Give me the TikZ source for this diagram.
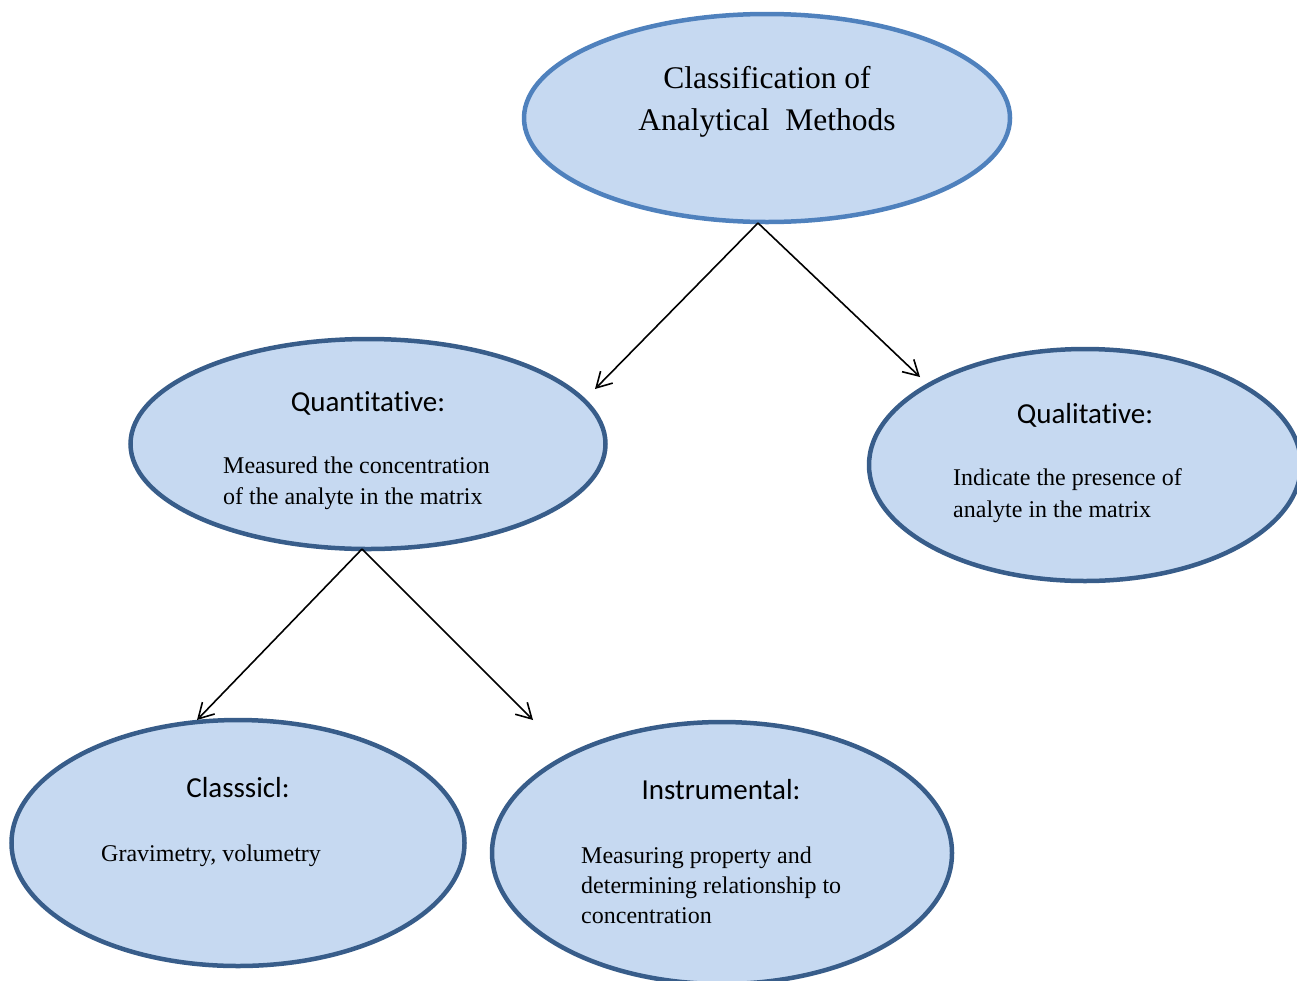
\documentclass[tikz,border=0pt]{standalone}
\usepackage{fontspec}
\setmainfont{Liberation Serif}
\newfontfamily\headfont[Ligatures=NoCommon]{Carlito}
\usetikzlibrary{shapes.geometric,arrows.meta}
\definecolor{ellfill}{HTML}{C6D9F1}
\definecolor{topborder}{HTML}{4F81BD}
\definecolor{subborder}{HTML}{385D8A}
\begin{document}
\begin{tikzpicture}[x=1pt,y=-1pt,
  ell/.style={ellipse,draw=subborder,fill=ellfill,line width=4.5pt,inner sep=0pt},
  headtxt/.style={anchor=base,inner sep=0pt,font=\headfont\fontsize{29}{34}\selectfont},
  titletxt/.style={anchor=base,inner sep=0pt,font=\fontsize{31.5}{42}\selectfont},
  bodytxt/.style={anchor=base west,inner sep=0pt,font=\fontsize{24}{31}\selectfont},
  conn/.style={line width=1.6pt,-{Straight Barb[length=15pt,width=17pt,line width=1.6pt]}}]
\useasboundingbox (0,0) rectangle (1297,980);
\begin{scope}
\clip (0,0) rectangle (1297,980);
\node[ell,draw=topborder,minimum width=486pt,minimum height=208pt] (top) at (767,118) {};
\node[ell,minimum width=475pt,minimum height=210pt] (quant) at (368,444) {};
\node[ell,minimum width=432pt,minimum height=232pt] (qual) at (1085,465) {};
\node[ell,minimum width=453pt,minimum height=246pt] (class) at (238,843) {};
\node[ell,minimum width=460pt,minimum height=262pt] (instr) at (722,853) {};
\end{scope}
% texts
\node[titletxt] (t1) at (767,88) {Classification of};
\node[titletxt] (t2) at (767,130) {Analytical\ \ Methods};
\node[headtxt] (h1) at (368,411) {Quantitative:};
\node[bodytxt] (b1a) at (223,473) {Measured the concentration};
\node[bodytxt] (b1b) at (223,504) {of the analyte in the matrix};
\node[headtxt] (h2) at (1085,423) {Qualitative:};
\node[bodytxt] (b2a) at (953,485) {Indicate the presence of};
\node[bodytxt] (b2b) at (953,517) {analyte in the matrix};
\node[headtxt] (h3) at (238,797) {Classsicl:};
\node[bodytxt] (b3a) at (101,861) {Gravimetry, volumetry};
\node[headtxt] (h4) at (721,799) {Instrumental:};
\node[bodytxt] (b4a) at (581,863) {Measuring property and};
\node[bodytxt] (b4b) at (581,893) {determining relationship to};
\node[bodytxt] (b4c) at (581,923) {concentration};
% connectors
\coordinate (s1) at (758,223);
\coordinate (e1) at (595,389);
\coordinate (e2) at (920,377);
\coordinate (s2) at (362,549);
\coordinate (e3) at (197,720);
\coordinate (e4) at (533,720);
\draw[conn] (s1) -- (e1);
\draw[conn] (s1) -- (e2);
\draw[conn] (s2) -- (e3);
\draw[conn] (s2) -- (e4);
\end{tikzpicture}
\end{document}
